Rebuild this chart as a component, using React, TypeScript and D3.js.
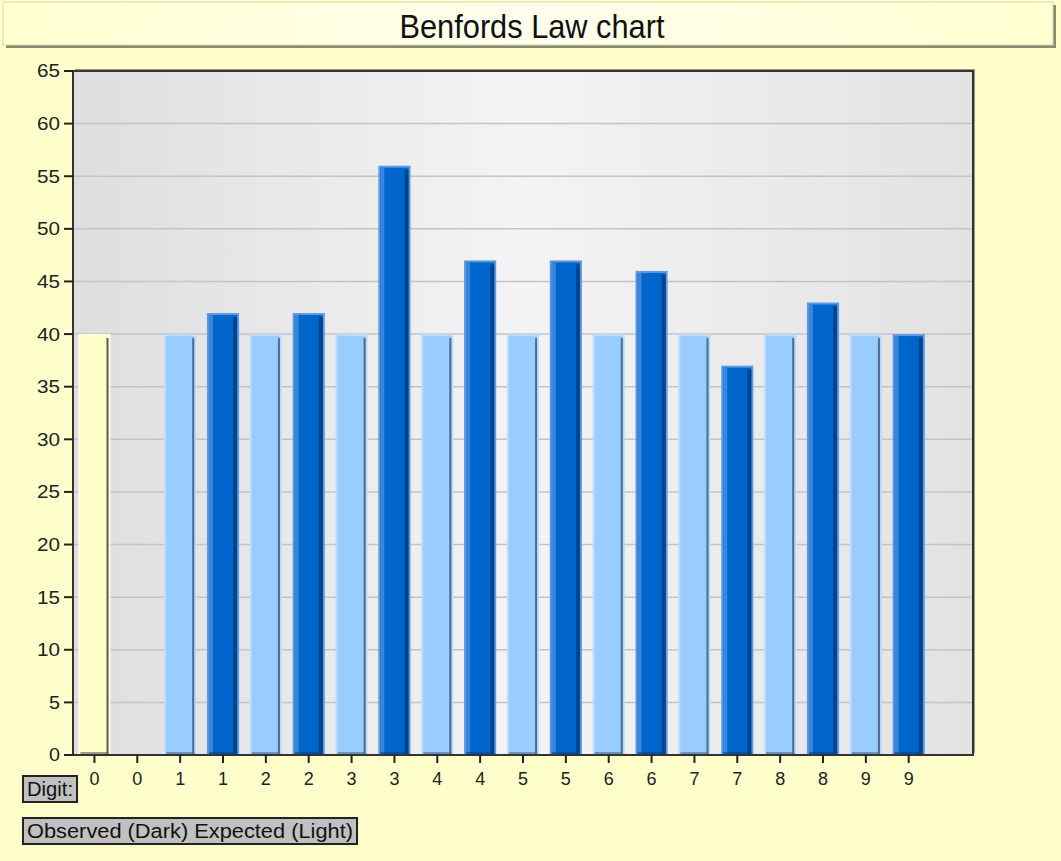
import React from 'react';
import * as d3 from 'd3';

const digits = ['0', '1', '2', '3', '4', '5', '6', '7', '8', '9'];
const expected = [40, 40, 40, 40, 40, 40, 40, 40, 40, 40];
const observed = [0, 42, 42, 56, 47, 47, 46, 37, 43, 40];
const yTicks = [0, 5, 10, 15, 20, 25, 30, 35, 40, 45, 50, 55, 60, 65];

type Bar = { key: string; label: string; value: number; kind: 'zero' | 'light' | 'dark' };

// expected then observed for each digit, digit 0's expected bar is drawn in yellow
const bars: Bar[] = digits.flatMap((d, i) => [
  { key: `e${d}`, label: d, value: expected[i], kind: i === 0 ? 'zero' : 'light' } as Bar,
  { key: `o${d}`, label: d, value: observed[i], kind: 'dark' } as Bar,
]);

const W = 1061;
const H = 861;
const left = 73;
const right = 973;
const top = 71;
const bottom = 755;

const styles = {
  zero: { outer: '#ffffe4', fill: '#ffffcc', hi: '#ffffe0', shade: '#5a5a50' },
  light: { outer: '#bcdcff', fill: '#99ccff', hi: '#b0d8ff', shade: '#4c6c8c' },
  dark: { outer: '#5c9ae6', fill: '#0066cc', hi: '#3a86dc', shade: '#00448f' },
};

const App: React.FC = () => {
  // one spare slot at the right end, like the original
  const x = d3
    .scaleBand<string>()
    .domain([...bars.map((b) => b.key), 'spare'])
    .range([left, right])
    .paddingInner(0.25)
    .paddingOuter(0.125);

  const y = d3.scaleLinear().domain([0, 65]).range([bottom, top]);
  const bw = x.bandwidth();

  return (
    <svg width={W} height={H} style={{ position: 'absolute', left: 0, top: 0 }}
      fontFamily="'Liberation Sans', Arial, sans-serif">
      <defs>
        <linearGradient id="plotBg" x1="0" x2="1" y1="0" y2="0">
          <stop offset="0%" stopColor="#dedede" />
          <stop offset="50%" stopColor="#f4f4f4" />
          <stop offset="100%" stopColor="#e2e2e2" />
        </linearGradient>
        <linearGradient id="titleBg" x1="0" x2="1" y1="0" y2="0">
          <stop offset="0%" stopColor="#ffffd0" />
          <stop offset="50%" stopColor="#ffffee" />
          <stop offset="100%" stopColor="#ffffd0" />
        </linearGradient>
      </defs>
      <rect x={0} y={0} width={W} height={H} fill="#ffffcc" />

      {/* title */}
      <rect x={6} y={5} width={1050} height={43} fill="#8a8a70" />
      <rect x={3} y={2} width={1050} height={43} fill="url(#titleBg)" stroke="#d8d8b0" />
      <text x={532} y={38} textAnchor="middle" fontSize={33} fill="#111" textLength={265}
        lengthAdjust="spacingAndGlyphs">
        Benfords Law chart
      </text>

      {/* plot area */}
      <rect x={left + 2} y={top - 2} width={right - left} height={bottom - top} fill="#9a9a80" />
      <rect x={left} y={top} width={right - left} height={bottom - top} fill="url(#plotBg)" />
      {yTicks.filter((t) => t > 0 && t < 65).map((t) => (
        <line key={t} x1={left} x2={right} y1={y(t)} y2={y(t)} stroke="#c4c4c4" strokeWidth={1.5} />
      ))}

      {bars.filter((b) => b.value > 0).map((b) => {
        const s = styles[b.kind];
        const bx = x(b.key)!;
        const by = y(b.value);
        const h = bottom - by;
        return (
          <g key={b.key}>
            <rect x={bx} y={by} width={bw} height={h} fill={s.outer} />
            <rect x={bx + 2} y={by + 2} width={bw - 4} height={h - 2} fill={s.fill} />
            {b.kind === 'dark' && <rect x={bx + 2} y={by + 2} width={4} height={h - 2} fill={s.hi} />}
            <rect x={bx + bw - (b.kind === 'dark' ? 6 : 4)} y={by + 4} width={b.kind === 'dark' ? 4 : 2}
              height={h - 4} fill={s.shade} />
            <rect x={bx + 2} y={bottom - 3} width={bw - 4} height={2} fill={s.shade} opacity={0.6} />
          </g>
        );
      })}

      {/* plot border and axes */}
      <rect x={left} y={top} width={right - left} height={bottom - top} fill="none" stroke="#333" strokeWidth={2} />
      {yTicks.map((t) => (
        <g key={t} transform={`translate(0,${y(t)})`}>
          <line x1={left - 9} x2={left} stroke="#222" strokeWidth={2} />
          <text x={left - 13} dy="0.36em" textAnchor="end" fontSize={18} fill="#222"
            textLength={t < 10 ? 11 : 23} lengthAdjust="spacingAndGlyphs">{t}</text>
        </g>
      ))}
      {bars.map((b) => {
        const cx = x(b.key)! + bw / 2;
        return (
          <g key={b.key} transform={`translate(${cx},${bottom})`}>
            <line y1={0} y2={8} stroke="#222" strokeWidth={2} />
            <text y={30} textAnchor="middle" fontSize={18} fill="#222">{b.label}</text>
          </g>
        );
      })}

      {/* legend boxes */}
      <rect x={23} y={776} width={54} height={26} fill="#c0c0c0" stroke="#222" strokeWidth={2} />
      <text x={27} y={796} fontSize={20} fill="#111" textLength={46} lengthAdjust="spacingAndGlyphs">Digit:</text>
      <rect x={23} y={818} width={334} height={26} fill="#c0c0c0" stroke="#222" strokeWidth={2} />
      <text x={27} y={838} fontSize={20} fill="#111" textLength={326}
        lengthAdjust="spacingAndGlyphs">Observed (Dark) Expected (Light)</text>
    </svg>
  );
};

export default App;
